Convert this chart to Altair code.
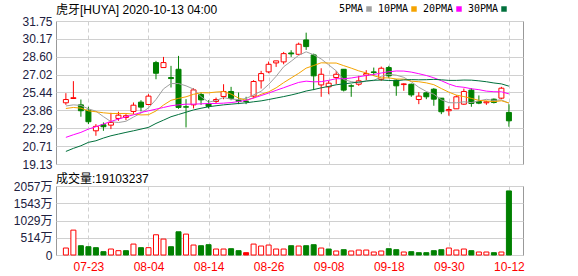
import altair as alt
import pandas as pd

dates = ['07-20','07-21','07-22','07-23','07-24','07-27','07-28','07-29','07-30','07-31',
         '08-03','08-04','08-05','08-06','08-07','08-10','08-11','08-12','08-13','08-14',
         '08-17','08-18','08-19','08-20','08-21','08-24','08-25','08-26','08-27','08-28',
         '08-31','09-01','09-02','09-03','09-04','09-08','09-09','09-10','09-11','09-14',
         '09-15','09-16','09-17','09-18','09-21','09-22','09-23','09-24','09-25','09-28',
         '09-29','09-30','10-01','10-02','10-05','10-06','10-07','10-08','10-09','10-12']

opens = [24.53,24.91,24.35,23.88,22.06,22.59,22.56,23.15,23.24,23.77,
         24.59,24.38,28.08,27.64,26.76,27.49,24.18,24.35,25.26,24.44,
         24.65,25.09,25.53,24.76,24.68,25.12,26.47,27.26,28.05,28.14,
         28.93,28.81,30.08,28.76,26.11,25.94,26.76,27.49,26.03,26.17,
         26.97,27.26,26.61,27.64,26.53,26.14,26.17,24.82,25.41,25.73,
         24.94,23.83,24.00,24.41,25.65,24.65,24.53,24.85,24.94,23.68]
highs = [25.38,26.44,24.82,24.18,22.65,22.80,23.65,23.74,23.53,24.56,
         24.76,25.29,28.23,28.58,27.79,28.67,24.85,25.82,25.44,24.76,
         24.99,26.17,25.94,25.44,25.06,26.53,27.35,28.17,28.23,29.02,
         29.17,29.84,30.72,28.87,27.58,26.47,27.35,27.49,26.17,26.91,
         27.41,27.64,27.73,27.79,26.61,26.26,26.23,25.47,25.50,25.82,
         24.94,24.21,25.20,25.79,25.82,25.18,24.71,24.91,25.94,24.41]
lows = [24.35,24.88,23.30,22.65,21.62,22.06,22.21,22.94,23.00,23.53,
        23.77,24.32,26.61,27.64,25.88,24.00,22.36,24.03,24.35,24.03,
        24.47,24.85,24.76,24.41,24.41,24.94,25.79,27.14,27.70,27.93,
        28.58,28.76,29.20,25.65,25.06,25.29,26.17,25.53,25.06,26.03,
        26.53,26.91,26.47,26.70,25.15,25.59,25.06,24.41,24.85,24.27,
        23.53,23.39,24.00,24.35,24.18,24.41,24.35,24.47,24.85,22.42]
closes = [24.82,24.98,23.83,22.86,22.45,22.42,22.80,23.44,23.39,24.32,
          24.15,25.12,27.14,28.08,26.67,24.12,24.15,25.67,24.79,24.21,
          24.82,25.53,24.91,24.65,24.65,26.41,27.11,27.93,28.23,28.87,
          28.85,29.70,29.49,26.91,27.05,26.26,27.05,25.65,26.00,26.47,
          27.11,27.20,27.58,26.91,26.03,26.20,25.23,25.12,25.06,24.85,
          23.74,23.94,25.06,25.53,24.47,24.50,24.62,24.56,25.82,22.94]

ma5 = [24.25,24.35,24.30,24.00,23.79,23.31,22.87,22.79,22.90,23.27,
       23.62,24.08,24.82,25.76,26.23,26.23,26.03,25.74,25.08,24.59,
       24.73,25.00,24.85,24.82,24.91,25.23,25.55,26.15,26.87,27.71,
       28.20,28.72,29.03,28.77,28.40,27.88,27.35,26.58,26.40,26.29,
       26.46,26.49,26.87,27.05,26.97,26.78,26.39,25.90,25.53,25.29,
       24.80,24.54,24.53,24.62,24.55,24.70,24.84,24.74,24.79,24.49]
ma10 = [24.03,24.12,24.06,23.82,23.74,23.65,23.59,23.59,23.59,23.53,
        23.46,23.48,23.81,24.33,24.75,24.92,25.06,25.28,25.42,25.41,
        25.48,25.52,25.30,24.95,24.75,24.98,25.28,25.50,25.85,26.31,
        26.72,27.13,27.59,27.82,28.06,28.04,28.04,27.81,27.59,27.35,
        27.17,26.92,26.73,26.73,26.63,26.62,26.44,26.39,26.29,26.13,
        25.79,25.47,25.21,25.08,24.92,24.75,24.69,24.63,24.71,24.52]
ma20 = [21.48,21.71,21.92,22.21,22.42,22.65,22.89,23.09,23.30,23.47,
        23.68,23.82,23.97,24.12,24.27,24.35,24.41,24.41,24.44,24.47,
        24.47,24.50,24.55,24.64,24.75,24.95,25.17,25.39,25.63,25.86,
        26.10,26.33,26.44,26.38,26.40,26.51,26.66,26.65,26.72,26.83,
        26.94,27.03,27.16,27.27,27.34,27.33,27.24,27.10,26.94,26.74,
        26.48,26.19,25.97,25.90,25.77,25.69,25.56,25.51,25.50,25.32]
ma30 = [20.24,20.51,20.74,21.04,21.18,21.42,21.62,21.77,21.92,22.06,
        22.21,22.36,22.71,23.00,23.30,23.50,23.70,23.90,24.05,24.18,
        24.27,24.35,24.41,24.47,24.53,24.62,24.70,24.82,24.95,25.08,
        25.22,25.38,25.57,25.70,25.85,25.98,26.12,26.20,26.28,26.36,
        26.45,26.52,26.54,26.50,26.48,26.55,26.58,26.56,26.57,26.60,
        26.56,26.51,26.51,26.54,26.53,26.47,26.39,26.28,26.20,26.00]

volumes = [208,742,277,247,218,99,178,129,129,326,
           218,218,603,475,247,692,623,297,277,307,
           178,178,188,129,69,326,267,297,178,178,
           277,267,277,307,208,178,119,158,119,148,
           148,89,119,188,158,89,99,69,69,129,
           158,208,148,178,129,89,89,69,89,1910]
vol_dir = ['up','up','down','down','down','down','up','up','down','up',
           'down','up','up','up','down','down','up','up','down','down',
           'up','up','down','down','flat','up','up','up','up','up',
           'down','up','down','down','up','down','up','down','up','up',
           'up','up','up','down','down','up','down','down','down','down',
           'down','up','up','up','down','up','up','down','up','down']

ma_names = ['5PMA', '10PMA', '20PMA', '30PMA']
ma_colors = ['#a0a0a0', '#f5a300', '#ff00ff', '#00703c']
price_ticks = [19.13, 20.71, 22.29, 23.86, 25.44, 27.02, 28.60, 30.17, 31.75]
vol_ticks = [0, 514.25, 1028.5, 1542.75, 2057]
date_ticks = ['07-23', '08-04', '08-14', '08-26', '09-08', '09-18', '09-30', '10-12']
title_text = '虎牙[HUYA] 2020-10-13 04:00'
vol_title = '成交量:19103237'

RED = '#ff0000'
GREEN = '#008000'
GRID = '#d0d0d0'
LABEL = '#202040'

N = len(dates)
idx = list(range(N))
candles = pd.DataFrame({'i': idx, 'date': dates, 'open': opens, 'high': highs,
                        'low': lows, 'close': closes})
candles['dir'] = ['up' if c > o else 'down' for o, c in zip(opens, closes)]
ma_series = [ma5, ma10, ma20, ma30]
ma = pd.concat([pd.DataFrame({'i': idx, 'v': s, 'ma': n})
                for n, s in zip(ma_names, ma_series)])
vol = pd.DataFrame({'i': idx, 'vol': volumes, 'dir': vol_dir})

tick_idx = [dates.index(d) for d in date_ticks]
label_expr = "[" + ",".join("'%s'" % d for d in dates) + "][datum.value]"

xscale = alt.Scale(domain=[-0.65, 60.21], nice=False, zero=False)
price_scale = alt.Scale(domain=[19.13, 31.75], nice=False, zero=False)
fill_scale = alt.Scale(domain=['up', 'down', 'flat'], range=['#ffffff', GREEN, RED])
stroke_scale = alt.Scale(domain=['up', 'down', 'flat'], range=[RED, GREEN, RED])
ma_scale = alt.Scale(domain=ma_names, range=ma_colors)

x_price = alt.X('i:Q', scale=xscale,
                axis=alt.Axis(values=tick_idx, labels=False, ticks=False, domain=False,
                              grid=True, gridDash=[4, 3], gridColor=GRID, title=None,
                              minExtent=0, maxExtent=0))
y_axis_price = alt.Axis(values=price_ticks, format='.2f', ticks=False, domain=False,
                        grid=True, gridColor=GRID, title=None, labelPadding=4,
                        labelOverlap=False, labelBound=False,
                        minExtent=50, maxExtent=50)

wicks = alt.Chart(candles).mark_rule(strokeWidth=1).encode(
    x=x_price, y=alt.Y('low:Q', scale=price_scale, axis=y_axis_price), y2='high:Q',
    stroke=alt.Stroke('dir:N', scale=stroke_scale, legend=None))
bodies = alt.Chart(candles).mark_bar(size=5, strokeWidth=1).encode(
    x='i:Q', y=alt.Y('open:Q', axis=y_axis_price), y2='close:Q',
    fill=alt.Fill('dir:N', scale=fill_scale, legend=None),
    stroke=alt.Stroke('dir:N', scale=stroke_scale, legend=None))
line_layers = [
    alt.Chart(pd.DataFrame({'i': idx, 'v': s})).mark_line(strokeWidth=1, color=c).encode(
        x='i:Q', y=alt.Y('v:Q', axis=y_axis_price))
    for s, c in zip(ma_series, ma_colors)
]
legend_marks = alt.Chart(ma).transform_filter('false').mark_square(
    size=30, filled=True, opacity=1).encode(
    x='i:Q', y=alt.Y('v:Q', axis=y_axis_price),
    color=alt.Color('ma:N', scale=ma_scale, sort=ma_names,
                    legend=alt.Legend(orient='none', legendX=308, legendY=-17,
                                      direction='horizontal', title=None,
                                      symbolType='square', symbolSize=30,
                                      symbolStrokeWidth=0, symbolOpacity=1,
                                      labelFont='DejaVu Sans Mono',
                                      labelFontSize=10, labelColor='#000000',
                                      labelAlign='right',
                                      labelOffset=alt.ExprRef('-11'),
                                      columnPadding=5)))

price = alt.layer(wicks, bodies, *line_layers, legend_marks).properties(
    width=467, height=143,
    title=alt.TitleParams(title_text, anchor='start', frame='group', fontSize=12,
                          font='Liberation Sans, Noto Sans CJK SC', fontWeight='normal',
                          color='#000000', offset=-2))

volume = alt.Chart(vol).mark_bar(size=5, strokeWidth=1).encode(
    x=alt.X('i:Q', scale=xscale,
            axis=alt.Axis(values=tick_idx, labelExpr=label_expr, grid=True, gridDash=[4, 3],
                          gridColor=GRID, ticks=False, domain=False, labelColor=RED,
                          labelPadding=6, title=None)),
    y=alt.Y('vol:Q', scale=alt.Scale(domain=[0, 2057], nice=False),
            axis=alt.Axis(values=vol_ticks,
                          labelExpr="datum.value == 0 ? '0' : format(datum.value, '.0f') + '万'",
                          ticks=False, domain=False, grid=True, gridColor=GRID, title=None,
                          labelPadding=4, labelOverlap=False, labelBound=False,
                          minExtent=50, maxExtent=50)),
    fill=alt.Fill('dir:N', scale=fill_scale, legend=None),
    stroke=alt.Stroke('dir:N', scale=stroke_scale, legend=None)
).properties(
    width=467, height=69,
    title=alt.TitleParams(vol_title, anchor='start', frame='group', fontSize=12,
                          font='Liberation Sans, Noto Sans CJK SC', fontWeight='normal',
                          color='#000000', offset=-6))

chart = alt.vconcat(price, volume, spacing=1).properties(
    padding={'left': 5, 'top': 3, 'right': 5, 'bottom': 2}
).configure_view(stroke='#999999', strokeWidth=1).configure_axis(
    labelFont='Liberation Sans, Noto Sans CJK SC', labelFontSize=12, labelColor=LABEL,
    labelOverlap=False)

chart.save('out.html', embed_options={'renderer': 'svg', 'actions': False})
